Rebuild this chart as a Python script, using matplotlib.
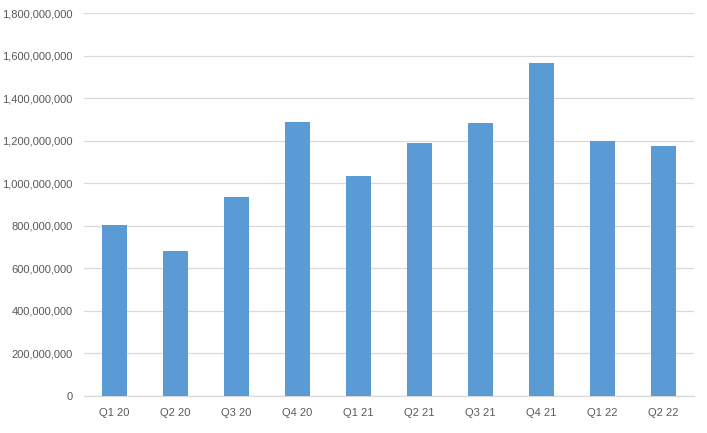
import matplotlib
matplotlib.use("Agg")
import matplotlib.pyplot as plt
from matplotlib.ticker import FuncFormatter, MultipleLocator

# quarterly values
quarters = ["Q1 20", "Q2 20", "Q3 20", "Q4 20", "Q1 21",
            "Q2 21", "Q3 21", "Q4 21", "Q1 22", "Q2 22"]
values = [803e6, 682e6, 936e6, 1287e6, 1035e6,
          1190e6, 1284e6, 1566e6, 1198e6, 1176e6]

plt.rcParams["font.family"] = ["Liberation Sans", "DejaVu Sans"]

fig = plt.figure(figsize=(7.07, 4.33), dpi=100)
ax = fig.add_axes([84 / 707, 1 - 396 / 433, 610 / 707, (396 - 13.3) / 433])

x = range(len(quarters))
ax.bar(x, values, width=0.41, color="#5B9BD5", zorder=3)

ax.set_xlim(-0.5, len(quarters) - 0.5)
ax.set_ylim(0, 1.8e9)
ax.yaxis.set_major_locator(MultipleLocator(2e8))
ax.yaxis.set_major_formatter(FuncFormatter(lambda v, p: f"{int(round(v)):,}"))
ax.set_xticks(list(x))
ax.set_xticklabels(quarters)

ax.grid(axis="y", color="#D9D9D9", linewidth=0.9, zorder=0)
for s in ["top", "right", "left"]:
    ax.spines[s].set_visible(False)
ax.spines["bottom"].set_color("#D9D9D9")
ax.spines["bottom"].set_linewidth(0.9)

ax.tick_params(axis="both", length=0, labelsize=8, colors="#595959")
ax.tick_params(axis="y", pad=8)
ax.tick_params(axis="x", pad=9)

fig.savefig("out.png", dpi=100)
